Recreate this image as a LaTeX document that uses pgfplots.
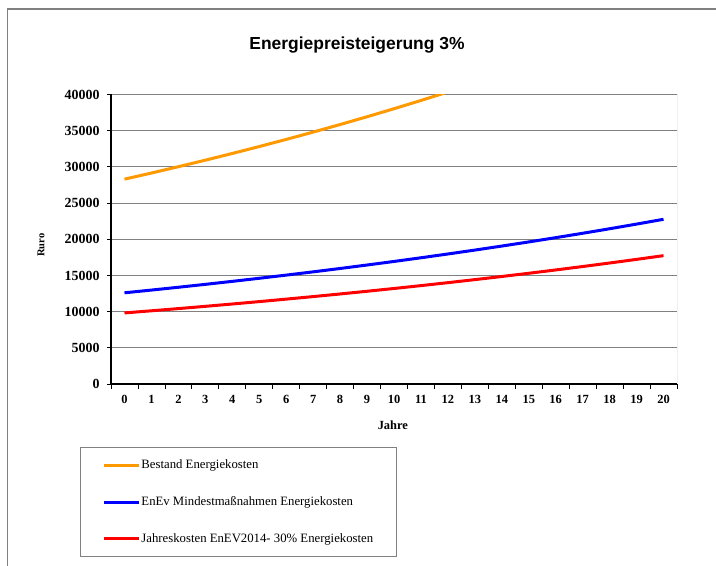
\documentclass[border=0pt]{standalone}
\usepackage{pgfplots}
\pgfplotsset{compat=1.18}
\usepackage{fontspec}
\setmainfont{Liberation Serif}
\newfontfamily\arialfont{Liberation Sans}
\definecolor{xlorange}{HTML}{FF9900}
\definecolor{xlblue}{HTML}{0000FF}
\definecolor{xlred}{HTML}{FF0000}
\definecolor{framegray}{HTML}{808080}
\begin{document}
\begin{tikzpicture}
\useasboundingbox (0,0) rectangle (716bp,566bp);
\fill[white] (0,0) rectangle (716bp,566bp);
\draw[framegray, line width=1.3bp] (7.5bp,0) -- (7.5bp,557bp) -- (716bp,557bp);
\node[font=\arialfont\bfseries\fontsize{17.5}{20}\selectfont, anchor=center] at (357bp,521bp) {Energiepreisteigerung 3\%};
\begin{axis}[
  at={(111bp,182bp)}, anchor=south west,
  width=566bp, height=289.5bp, scale only axis,
  xmin=-0.5, xmax=20.5, ymin=0, ymax=40000,
  axis x line*=bottom, axis y line*=left,
  axis line style={black, line width=1.2bp},
  xtick={0,...,20},
  minor xtick={-0.5,0.5,...,20.5},
  ytick={0,5000,...,40000},
  scaled y ticks=false,
  tick align=outside,
  major tick length=4bp, minor tick length=5bp,
  major x tick style={draw=none},
  minor x tick style={black, line width=0.8bp},
  major y tick style={black, line width=0.8bp},
  ymajorgrids,
  major grid style={framegray, line width=1bp},
  /pgf/number format/assume math mode=true,
  /pgf/number format/1000 sep={},
  xticklabel style={font=\bfseries\fontsize{12.5}{14}\selectfont, yshift=-4bp},
  yticklabel style={font=\bfseries\fontsize{14}{16}\selectfont, xshift=-4bp},
  xlabel={Jahre},
  ylabel={Ruro},
  xlabel style={font=\bfseries\fontsize{12.5}{14}\selectfont, at={(axis description cs:0.498,-0.1416)}, anchor=center},
  ylabel style={font=\bfseries\fontsize{10.5}{12}\selectfont, at={(axis description cs:-0.1237,0.48)}, anchor=center, rotate=0},
  legend style={at={(-0.0548,-0.2176)}, anchor=north west, draw=framegray, line width=1bp, fill=white,
    inner xsep=22bp, inner ysep=11.5bp, row sep=24.5bp,
    font=\fontsize{12.8}{14}\selectfont,
    nodes={inner sep=1bp, anchor=west}},
  legend cell align=left,
  legend image code/.code={\draw[#1, line width=3bp] (0bp,0bp) -- (35bp,0bp);},
]
\draw[framegray, line width=1bp] (rel axis cs:1,0) -- (rel axis cs:1,1);
\addplot[xlorange, line width=3bp] coordinates {
(0,28300) (1,29149) (2,30023) (3,30924) (4,31852) (5,32807) (6,33792) (7,34805)
(8,35850) (9,36925) (10,38033) (11,39174) (12,40349) (13,41560) (14,42806)
(15,44090) (16,45413) (17,46776) (18,48179) (19,49624) (20,51113)};
\addlegendentry{Bestand Energiekosten}
\addplot[xlblue, line width=3bp] coordinates {
(0,12600) (1,12978) (2,13367) (3,13768) (4,14181) (5,14607) (6,15045) (7,15496)
(8,15961) (9,16440) (10,16933) (11,17441) (12,17965) (13,18504) (14,19059)
(15,19630) (16,20219) (17,20826) (18,21451) (19,22094) (20,22757)};
\addlegendentry{EnEv Mindestmaßnahmen Energiekosten}
\addplot[xlred, line width=3bp] coordinates {
(0,9820) (1,10115) (2,10418) (3,10731) (4,11053) (5,11384) (6,11726) (7,12077)
(8,12440) (9,12813) (10,13197) (11,13593) (12,14001) (13,14421) (14,14854)
(15,15299) (16,15758) (17,16231) (18,16718) (19,17219) (20,17736)};
\addlegendentry{Jahreskosten EnEV2014- 30\% Energiekosten}
\end{axis}
\end{tikzpicture}
\end{document}
